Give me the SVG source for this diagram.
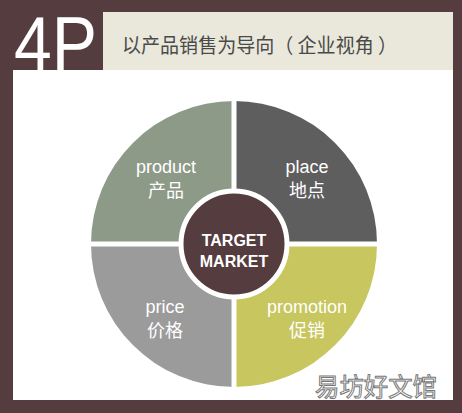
<svg xmlns="http://www.w3.org/2000/svg" width="462" height="413" viewBox="0 0 462 413">
<style>
.lbl{font-family:"Liberation Sans","Noto Sans CJK SC",sans-serif;font-size:18px;fill:#ffffff;text-anchor:middle}
.ctr{font-family:"Liberation Sans",sans-serif;font-size:16px;font-weight:bold;fill:#ffffff;text-anchor:middle}
</style>
<rect x="0" y="0" width="462" height="413" fill="#553d3f"/>
<rect x="103" y="12" width="350" height="58" fill="#e9e8da"/>
<rect x="13" y="70" width="440" height="330" fill="#ffffff"/>
<text x="14" y="70" font-family="Liberation Sans,sans-serif" font-size="76" fill="#ffffff" textLength="83" lengthAdjust="spacingAndGlyphs">4P</text>
<text x="122" y="53" font-family="Noto Sans CJK SC,sans-serif" font-size="20" fill="#4a4a4a" textLength="275" lengthAdjust="spacingAndGlyphs">以产品销售为导向（ 企业视角 ）</text>
<g id="product">
<path d="M234,244 L91,244 A143,143 0 0 1 234,101 Z" fill="#8e9a88"/>
<text class="lbl" x="166" y="173">product</text>
<text class="lbl" x="166" y="197">产品</text>
</g>
<g id="place">
<path d="M234,244 L234,101 A143,143 0 0 1 377,244 Z" fill="#5e5e5e"/>
<text class="lbl" x="307" y="173">place</text>
<text class="lbl" x="307" y="197">地点</text>
</g>
<g id="promotion">
<path d="M234,244 L377,244 A143,143 0 0 1 234,387 Z" fill="#c8c65e"/>
<text class="lbl" x="307" y="313">promotion</text>
<text class="lbl" x="307" y="337">促销</text>
</g>
<g id="price">
<path d="M234,244 L234,387 A143,143 0 0 1 91,244 Z" fill="#9b9b9b"/>
<text class="lbl" x="165" y="313">price</text>
<text class="lbl" x="165" y="337">价格</text>
</g>
<g id="connectors">
<line x1="234" y1="95" x2="234" y2="393" stroke="#ffffff" stroke-width="5"/>
<line x1="85" y1="244" x2="383" y2="244" stroke="#ffffff" stroke-width="5"/>
</g>
<g id="target-market">
<circle cx="234" cy="244" r="53" fill="#553d3f" stroke="#ffffff" stroke-width="5"/>
<text class="ctr" x="234" y="246">TARGET</text>
<text class="ctr" x="234" y="267">MARKET</text>
</g>
<text x="315" y="396" font-family="Noto Sans CJK SC,sans-serif" font-size="25" fill="#ffffff" stroke="#777777" stroke-width="1" textLength="122" lengthAdjust="spacingAndGlyphs">易坊好文馆</text>
</svg>
